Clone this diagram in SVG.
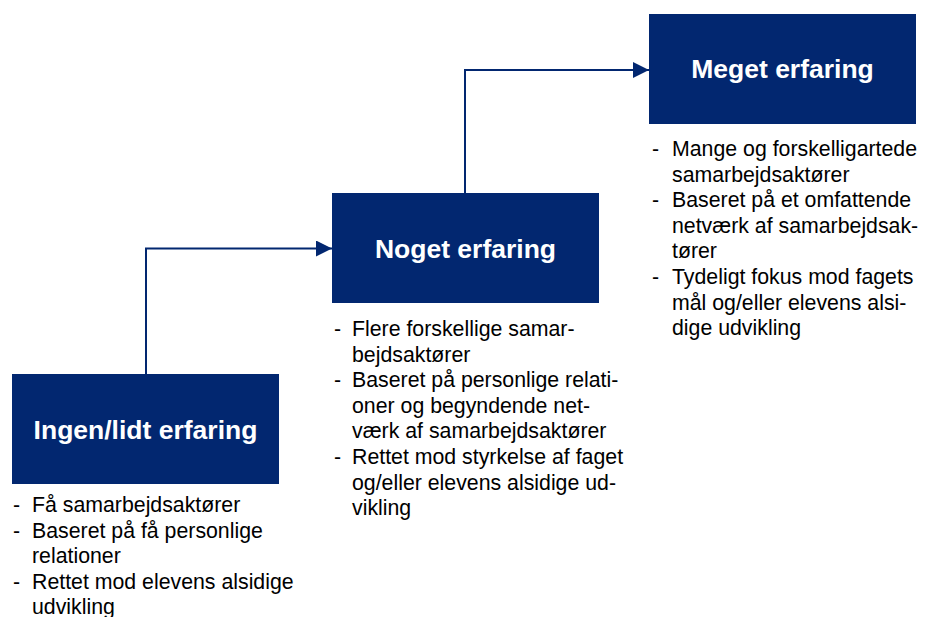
<svg xmlns="http://www.w3.org/2000/svg" width="933" height="617" viewBox="0 0 933 617">
<style>
.box{fill:#022770}
.title{font-family:"Liberation Sans",Arial,sans-serif;font-weight:bold;font-size:26.5px;fill:#fff;text-anchor:middle}
.body{font-family:"Liberation Sans",Arial,sans-serif;font-size:21.3px;fill:#000}
.conn{fill:none;stroke:#022770;stroke-width:2}
</style>
<defs>
<marker id="arr" markerUnits="userSpaceOnUse" markerWidth="16" markerHeight="16" refX="16" refY="8" orient="auto">
<path d="M0,0 L16,8 L0,16 Z" fill="#022770"/>
</marker>
</defs>
<rect width="933" height="617" fill="#fff"/>
<g id="connectors">
<path class="conn" d="M146,374 V248.5 H332" marker-end="url(#arr)"/>
<path class="conn" d="M465,193 V70 H649" marker-end="url(#arr)"/>
</g>
<g id="node1">
<rect class="box" x="12" y="374" width="267" height="110"/>
<text class="title" x="145.5" y="439">Ingen/lidt erfaring</text>
<text class="body">
<tspan x="13" y="512">-</tspan><tspan x="32" y="512">Få samarbejdsaktører</tspan>
<tspan x="13" y="537.6">-</tspan><tspan x="32" y="537.6">Baseret på få personlige</tspan>
<tspan x="32" y="563.2">relationer</tspan>
<tspan x="13" y="588.8">-</tspan><tspan x="32" y="588.8">Rettet mod elevens alsidige</tspan>
<tspan x="32" y="614.4">udvikling</tspan>
</text>
</g>
<g id="node2">
<rect class="box" x="332" y="193" width="267" height="110"/>
<text class="title" x="465.5" y="257.7">Noget erfaring</text>
<text class="body">
<tspan x="334" y="336">-</tspan><tspan x="352" y="336">Flere forskellige samar-</tspan>
<tspan x="352" y="361.6">bejdsaktører</tspan>
<tspan x="334" y="387.2">-</tspan><tspan x="352" y="387.2">Baseret på personlige relati-</tspan>
<tspan x="352" y="412.8">oner og begyndende net-</tspan>
<tspan x="352" y="438.4">værk af samarbejdsaktører</tspan>
<tspan x="334" y="464">-</tspan><tspan x="352" y="464">Rettet mod styrkelse af faget</tspan>
<tspan x="352" y="489.6">og/eller elevens alsidige ud-</tspan>
<tspan x="352" y="515.2">vikling</tspan>
</text>
</g>
<g id="node3">
<rect class="box" x="649" y="14" width="267" height="110"/>
<text class="title" x="782.5" y="78.3">Meget erfaring</text>
<text class="body">
<tspan x="652" y="156">-</tspan><tspan x="672" y="156">Mange og forskelligartede</tspan>
<tspan x="672" y="181.6">samarbejdsaktører</tspan>
<tspan x="652" y="207.2">-</tspan><tspan x="672" y="207.2">Baseret på et omfattende</tspan>
<tspan x="672" y="232.8">netværk af samarbejdsak-</tspan>
<tspan x="672" y="258.4">tører</tspan>
<tspan x="652" y="284">-</tspan><tspan x="672" y="284">Tydeligt fokus mod fagets</tspan>
<tspan x="672" y="309.6">mål og/eller elevens alsi-</tspan>
<tspan x="672" y="335.2">dige udvikling</tspan>
</text>
</g>
</svg>
